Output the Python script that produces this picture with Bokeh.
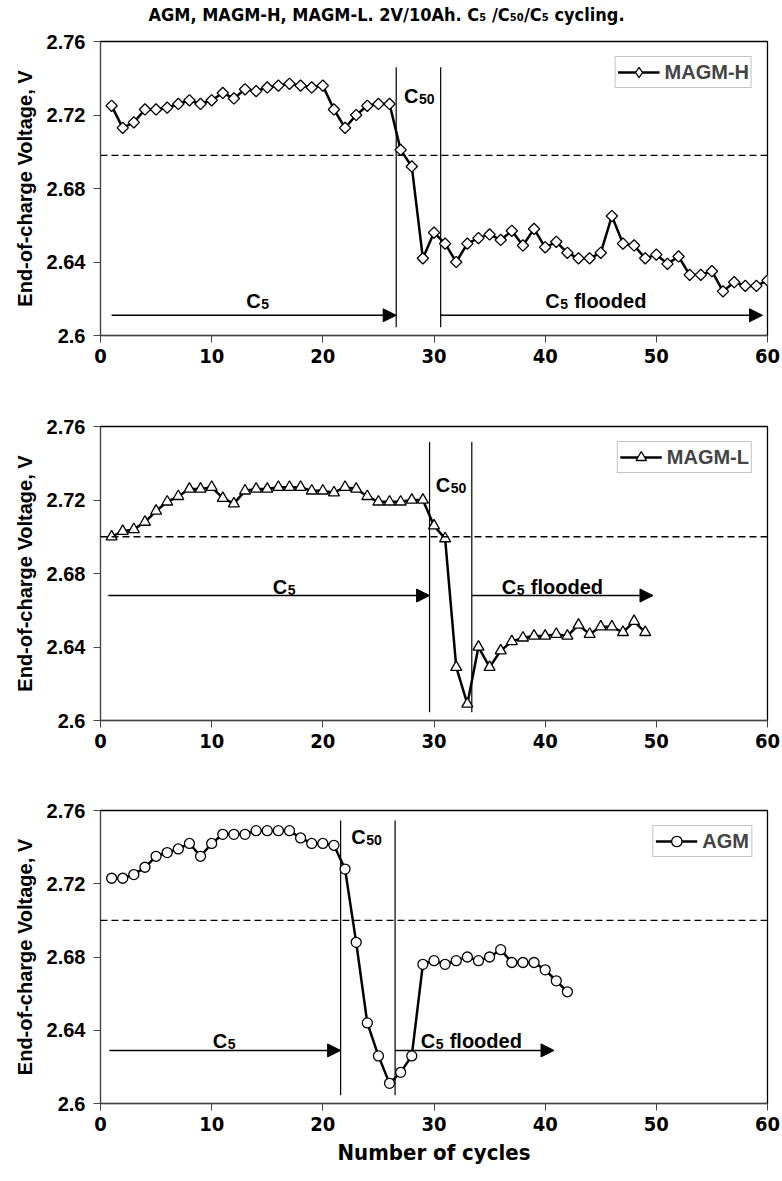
import numpy as np
from bokeh.plotting import figure
from bokeh.layouts import column
from bokeh.models import Range1d, FixedTicker, Span, Arrow, NormalHead, Legend, LegendItem
from bokeh.core.properties import value
from bokeh.embed import file_html
from bokeh.resources import INLINE

# ---- data: end-of-charge voltage per cycle ----
cycles_h = list(range(1, 61))
volt_h = [2.725, 2.713, 2.716, 2.723, 2.723, 2.724, 2.726, 2.728, 2.726, 2.728,
          2.732, 2.729, 2.734, 2.733, 2.735, 2.736, 2.737, 2.736, 2.735, 2.736,
          2.723, 2.713, 2.720, 2.725, 2.726, 2.726, 2.701, 2.692, 2.642, 2.656,
          2.650, 2.640, 2.650, 2.653, 2.655, 2.652, 2.657, 2.649, 2.658, 2.648,
          2.651, 2.645, 2.642, 2.642, 2.645, 2.665, 2.650, 2.649, 2.642, 2.644,
          2.639, 2.643, 2.633, 2.633, 2.635, 2.624, 2.629, 2.627, 2.627, 2.630]

cycles_l = list(range(1, 50))
volt_l = [2.700, 2.703, 2.704, 2.708, 2.714, 2.719, 2.722, 2.726, 2.726, 2.727,
          2.721, 2.718, 2.725, 2.726, 2.726, 2.727, 2.727, 2.727, 2.725, 2.725,
          2.724, 2.727, 2.726, 2.722, 2.719, 2.719, 2.719, 2.720, 2.720, 2.706,
          2.699, 2.629, 2.609, 2.640, 2.629, 2.638, 2.643, 2.645, 2.646, 2.646,
          2.647, 2.646, 2.652, 2.647, 2.651, 2.651, 2.648, 2.654, 2.648]

cycles_a = list(range(1, 43))
volt_a = [2.723, 2.723, 2.725, 2.729, 2.735, 2.737, 2.739, 2.742, 2.735, 2.742,
          2.747, 2.747, 2.747, 2.749, 2.749, 2.749, 2.749, 2.745, 2.742, 2.742,
          2.741, 2.728, 2.688, 2.644, 2.626, 2.611, 2.617, 2.626, 2.676, 2.678,
          2.676, 2.678, 2.680, 2.678, 2.680, 2.684, 2.677, 2.677, 2.677, 2.673,
          2.667, 2.661]

# regime boundaries (cycle number where C50 starts / ends)
c50_start = {"MAGM-H": 26.6, "MAGM-L": 29.6, "AGM": 21.6}
c50_end = {"MAGM-H": 30.6, "MAGM-L": 33.4, "AGM": 26.5}
ref_voltage = {"MAGM-H": 2.698, "MAGM-L": 2.700, "AGM": 2.700}

x_ticks = [0, 10, 20, 30, 40, 50, 60]
y_ticks = [2.6, 2.64, 2.68, 2.72, 2.76]
y_tick_labels = ["2.6", "2.64", "2.68", "2.72", "2.76"]

FONT = "Liberation Sans"
NARROW = "DejaVu Sans Condensed"
TITLE = "AGM, MAGM-H, MAGM-L. 2V/10Ah. C\u2085 /C\u2085\u2080/C\u2085 cycling."


def make_panel(height, top, bottom, xlabel=None):
    p = figure(width=782, height=height, x_range=Range1d(0, 60), y_range=Range1d(2.6, 2.76),
               output_backend="svg", toolbar_location=None,
               min_border_left=100, min_border_right=15,
               min_border_top=top, min_border_bottom=bottom)
    p.xgrid.visible = False
    p.ygrid.visible = False
    p.outline_line_color = "black"
    p.outline_line_width = 1.3
    p.background_fill_color = "white"
    p.border_fill_color = "white"

    p.xaxis.ticker = FixedTicker(ticks=x_ticks)
    p.yaxis.ticker = FixedTicker(ticks=y_ticks)
    p.yaxis.major_label_overrides = {t: s for t, s in zip(y_ticks, y_tick_labels)}
    for ax in (p.xaxis, p.yaxis):
        ax.major_tick_out = 7
        ax.major_tick_in = 0
        ax.minor_tick_out = 0
        ax.minor_tick_in = 0
        ax.axis_line_color = "#444444"
        ax.major_tick_line_color = "#444444"
        ax.major_label_text_font_style = "bold"
        ax.major_label_text_font_size = "20px"
        ax.major_label_text_color = "black"
        ax.axis_label_text_font_style = "bold"
        ax.axis_label_text_color = "black"
    p.xaxis.major_label_text_font = NARROW
    p.yaxis.major_label_text_font = FONT
    p.xaxis.major_label_standoff = 6
    p.yaxis.major_label_standoff = 8

    p.yaxis.axis_label = "End-of-charge Voltage, V"
    p.yaxis.axis_label_text_font = FONT
    p.yaxis.axis_label_text_font_size = "20px"
    p.yaxis.axis_label_standoff = 8
    if xlabel:
        p.xaxis.axis_label = xlabel
        p.xaxis.axis_label_text_font = NARROW
        p.xaxis.axis_label_text_font_size = "22px"
        p.xaxis.axis_label_standoff = 6
    return p


def c_label(p, x, y, sub, suffix=""):
    common = dict(text_font=value(FONT), text_font_style="bold", text_color="black",
                  text_baseline="alphabetic", text_align="left")
    p.text(x=[x], y=[y], text=["C"], text_font_size="20px", **common)
    p.text(x=[x], y=[y], text=[sub], text_font_size="14px", x_offset=15, y_offset=3, **common)
    if suffix:
        p.text(x=[x], y=[y], text=[suffix], text_font_size="20px",
               x_offset=15 + 8 * len(sub) + 6, **common)


def decorate(p, name, top_line, c5_start, arrow_y, flood_end, c5_label_x, flood_label_x,
             label_y, c50_label_x, c50_label_y):
    s, e = c50_start[name], c50_end[name]
    p.segment(x0=[s, e], y0=[2.6045, 2.6045], x1=[s, e], y1=[top_line, top_line],
              line_color="black", line_width=1.2)
    p.add_layout(Span(location=ref_voltage[name], dimension="width", line_color="black",
                      line_width=1.3, line_dash="7 4"))
    for xs, xe in ((c5_start, s), (e, flood_end)):
        p.add_layout(Arrow(end=NormalHead(size=13, fill_color="black", line_color="black"),
                           x_start=xs, y_start=arrow_y, x_end=xe, y_end=arrow_y,
                           line_color="black", line_width=1.5))
    c_label(p, c5_label_x, label_y, "5")
    c_label(p, flood_label_x, label_y, "5", "flooded")
    c_label(p, c50_label_x, c50_label_y, "50")


def add_series(p, x, y, marker, size, name, angle=0.0, legend_marker=None):
    r_line = p.line(x, y, line_color="black", line_width=2.5)
    r_mark = p.scatter(x, y, marker=marker, size=size, angle=angle, fill_color="white",
                       line_color="black", line_width=1.3)
    key_renderers = [r_line, r_mark]
    if legend_marker is not None:
        # legend keys are drawn unrotated, so the key uses its own marker shape
        r_key = p.scatter(x, y, marker=legend_marker, size=size, fill_color="white",
                          line_color="black", line_width=1.3, visible=False)
        key_renderers = [r_line, r_key]
    legend = Legend(items=[LegendItem(label=name, renderers=key_renderers)],
                    location="top_right", margin=15, padding=2, glyph_width=42,
                    glyph_height=26, label_height=20, label_standoff=5,
                    label_text_font=FONT, label_text_font_style="bold",
                    label_text_font_size="20px", border_line_color="#888888",
                    border_line_width=1, background_fill_alpha=1.0)
    p.add_layout(legend)


# heading strip; the column lines its frame up with the plot frames below (x 100..767 px)
header = figure(width=782, height=30, x_range=Range1d(100, 767), y_range=Range1d(0, 30),
                output_backend="svg", toolbar_location=None,
                x_axis_location=None, y_axis_location=None, min_border=0)
header.xgrid.visible = False
header.ygrid.visible = False
header.outline_line_color = None
header.text(x=[148], y=[16], text=[TITLE], text_font=value(NARROW), text_font_style="bold",
            text_font_size="18px", text_color="black", text_baseline="middle",
            text_align="left")

# panel 1: MAGM-H
p1 = make_panel(350, 11, 45)
decorate(p1, "MAGM-H", 2.746, 1.0, 2.611, 59.55, 13.1, 40.0, 2.619, 27.3, 2.7306)
add_series(p1, cycles_h, volt_h, "square", 8, "MAGM-H", angle=np.pi / 4, legend_marker="diamond")

# panel 2: MAGM-L
p2 = make_panel(385, 46, 45)
decorate(p2, "MAGM-L", 2.7515, 0.7, 2.668, 49.7, 15.5, 36.1, 2.6725, 30.15, 2.7284)
add_series(p2, cycles_l, volt_l, "triangle", 11, "MAGM-L")

# panel 3: AGM
p3 = make_panel(416, 45, 78, xlabel="Number of cycles")
decorate(p3, "AGM", 2.7545, 0.8, 2.629, 40.8, 10.1, 28.8, 2.634, 22.56, 2.7454)
add_series(p3, cycles_a, volt_a, "circle", 10, "AGM")

layout = column(header, p1, p2, p3, spacing=0)
open("out.html", "w").write(file_html(layout, INLINE))
